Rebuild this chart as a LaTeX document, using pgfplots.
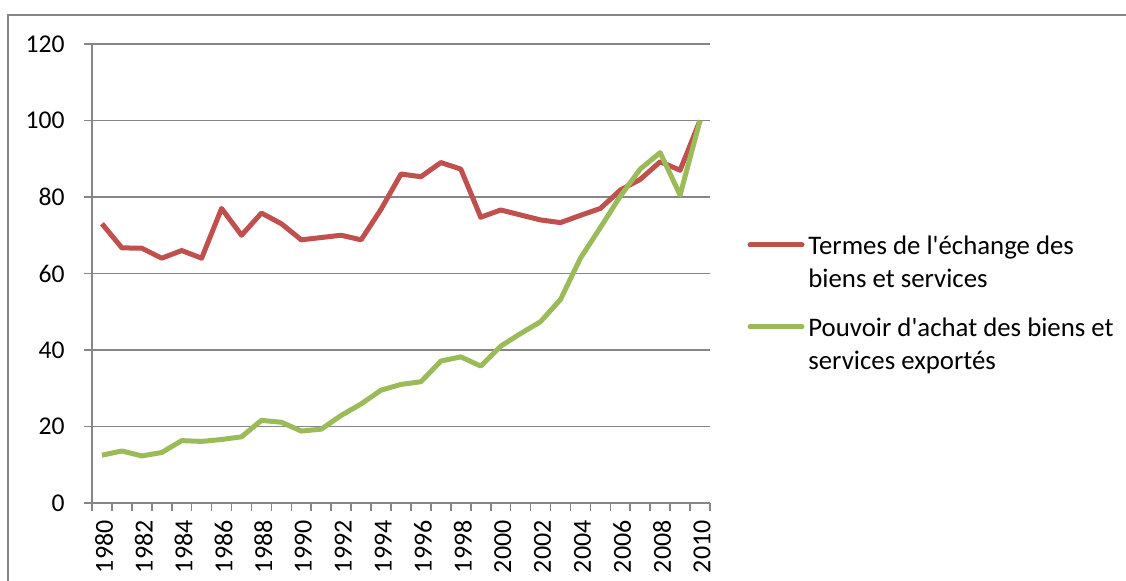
\documentclass[border=0pt]{standalone}
\usepackage{fontspec}
\setmainfont{Carlito}[Ligatures=TeXOff]
\usepackage{pgfplots}
\pgfplotsset{compat=1.18}
\definecolor{cred}{RGB}{192,80,77}
\definecolor{cgreen}{RGB}{155,187,89}
\definecolor{cgrid}{RGB}{134,134,134}
\begin{document}
\fontsize{13.4pt}{16pt}\selectfont
\begin{tikzpicture}
\useasboundingbox (0,0) rectangle (563pt,290.5pt);
\draw[cgrid, line width=0.8pt] (4pt,0) -- (4pt,283pt) -- (563pt,283pt);
\begin{axis}[
  at={(46pt,39pt)}, anchor=south west,
  scale only axis, width=309pt, height=229.5pt,
  xmin=1979.5, xmax=2010.5, ymin=0, ymax=120,
  axis x line*=bottom, axis y line*=left,
  axis line style={-, cgrid, line width=0.8pt},
  ytick={0,20,...,120},
  xtick={1980,1982,...,2010},
  minor xtick={1979.5,1980.5,...,2010.5},
  tick align=outside,
  major tick length=4pt, minor tick length=4pt,
  every major x tick/.append style={draw=none},
  every tick/.append style={cgrid, line width=0.8pt},
  ymajorgrids, grid style={cgrid, line width=0.8pt},
  /pgf/number format/assume math mode=true,
  /pgf/number format/set thousands separator={},
  xticklabel style={rotate=90, anchor=east, yshift=-1pt, font=\fontsize{13pt}{15pt}\selectfont},
  yticklabel style={xshift=-5pt, font=\fontsize{12.8pt}{15pt}\selectfont},
  clip=false,
]
\addplot[cred, line width=2.5pt, line join=round, no marks] coordinates {
(1980,73) (1981,66.7) (1982,66.6) (1983,64) (1984,66) (1985,64) (1986,77)
(1987,70) (1988,75.8) (1989,73) (1990,68.8) (1991,69.4) (1992,70) (1993,68.8)
(1994,76.8) (1995,86) (1996,85.3) (1997,89) (1998,87.3) (1999,74.7) (2000,76.6)
(2001,75.3) (2002,74) (2003,73.3) (2004,75.2) (2005,77) (2006,81.8) (2007,84.6)
(2008,89.2) (2009,87) (2010,100)};
\addplot[cgreen, line width=2.5pt, line join=round, no marks] coordinates {
(1980,12.5) (1981,13.6) (1982,12.3) (1983,13.2) (1984,16.3) (1985,16.1) (1986,16.6)
(1987,17.3) (1988,21.6) (1989,21.1) (1990,18.8) (1991,19.3) (1992,22.9) (1993,25.9)
(1994,29.5) (1995,31) (1996,31.7) (1997,37.1) (1998,38.2) (1999,35.8) (2000,41)
(2001,44.3) (2002,47.4) (2003,53.2) (2004,64) (2005,72) (2006,80.2) (2007,87.3)
(2008,91.6) (2009,80.5) (2010,100)};
\end{axis}
\draw[cred, line width=2.5pt, line cap=round] (375pt,168pt) -- (401pt,168pt);
\node[anchor=base west, inner sep=0pt] at (404pt,163pt) {Termes de l'échange des};
\node[anchor=base west, inner sep=0pt] at (404pt,146.5pt) {biens et services};
\draw[cgreen, line width=2.5pt, line cap=round] (375pt,127pt) -- (401pt,127pt);
\node[anchor=base west, inner sep=0pt] at (404pt,122pt) {Pouvoir d'achat des biens et};
\node[anchor=base west, inner sep=0pt] at (404pt,105.5pt) {services exportés};
\end{tikzpicture}
\end{document}
